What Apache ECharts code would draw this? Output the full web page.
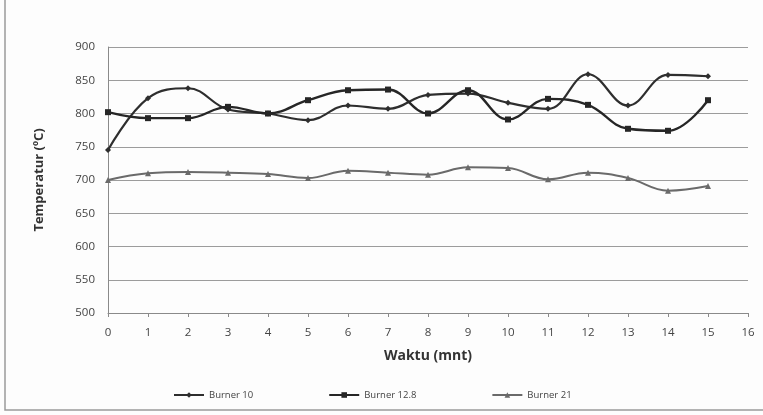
<!DOCTYPE html>
<html>
<head>
<meta charset="utf-8">
<script src="https://cdn.jsdelivr.net/npm/echarts@6/dist/echarts.min.js"></script>
<style>
html,body{margin:0;padding:0;background:#fff;}
#c1{width:763px;height:415px;}
</style>
</head>
<body>
<div id="c1"></div>
<script type="text/javascript">
// waktu (menit)
var waktu = [0,1,2,3,4,5,6,7,8,9,10,11,12,13,14,15];
// suhu tiap burner (°C)
var burner10  = [745,823,838,806,800,790,812,807,828,830,816,807,859,812,858,856];
var burner128 = [802,793,793,810,800,820,835,836,800,835,791,822,813,777,774,820];
var burner21  = [700,710,712,711,709,703,714,711,708,719,718,701,711,703,684,691];
var namaSeri = ['Burner 10','Burner 12.8','Burner 21'];

function pasang(xs, ys){
  var arr = [];
  for(var i=0;i<xs.length;++i){ arr.push([xs[i], ys[i]]); }
  return arr;
}

var chart = echarts.init(document.getElementById('c1'));
var fontUtama = '"Open Sans", "Liberation Sans", sans-serif';
var option = {
  backgroundColor:'#fdfdfd',
  animation:false,
  textStyle:{fontFamily:fontUtama},
  graphic:[{
    type:'rect',
    shape:{x:5,y:-2,width:760,height:412},
    style:{fill:'none',stroke:'#9a9a9a',lineWidth:1.5}
  }],
  grid:{left:108,right:15,top:47,bottom:102},
  legend:{
    bottom:10,
    left:168,
    itemGap:75,
    itemWidth:30,
    itemHeight:7,
    textStyle:{fontSize:9.5,color:'#444',fontFamily:fontUtama},
    data:namaSeri
  },
  xAxis:{
    type:'value',
    min:0, max:16, interval:1,
    name:'Waktu (mnt)',
    nameLocation:'middle',
    nameGap:36,
    nameTextStyle:{fontSize:14,fontWeight:'bold',color:'#333'},
    axisLine:{lineStyle:{color:'#8a8a8a'}},
    axisTick:{show:true,length:4,lineStyle:{color:'#8a8a8a'}},
    axisLabel:{margin:14,fontSize:11.5,color:'#444'},
    splitLine:{show:false}
  },
  yAxis:{
    type:'value',
    min:500, max:900, interval:50,
    name:'Temperatur (ºC)',
    nameLocation:'middle',
    nameGap:62,
    nameTextStyle:{fontSize:13,fontWeight:'bold',color:'#333'},
    axisLine:{show:true,lineStyle:{color:'#8a8a8a'}},
    axisTick:{show:false},
    axisLabel:{margin:13,fontSize:11.5,color:'#444'},
    splitLine:{lineStyle:{color:'#9c9c9c',width:1}}
  },
  series:[
    {
      name:namaSeri[0], type:'line', smooth:0.4,
      symbol:'diamond', symbolSize:6,
      lineStyle:{color:'#2e2e2e',width:2.2},
      itemStyle:{color:'#2e2e2e'},
      data:pasang(waktu, burner10)
    },
    {
      name:namaSeri[1], type:'line', smooth:0.4,
      symbol:'rect', symbolSize:6,
      lineStyle:{color:'#262626',width:2.4},
      itemStyle:{color:'#262626'},
      data:pasang(waktu, burner128)
    },
    {
      name:namaSeri[2], type:'line', smooth:0.4,
      symbol:'triangle', symbolSize:6,
      lineStyle:{color:'#6a6a6a',width:2},
      itemStyle:{color:'#6a6a6a'},
      data:pasang(waktu, burner21)
    }
  ]
};
chart.setOption(option);
</script>
</body>
</html>
